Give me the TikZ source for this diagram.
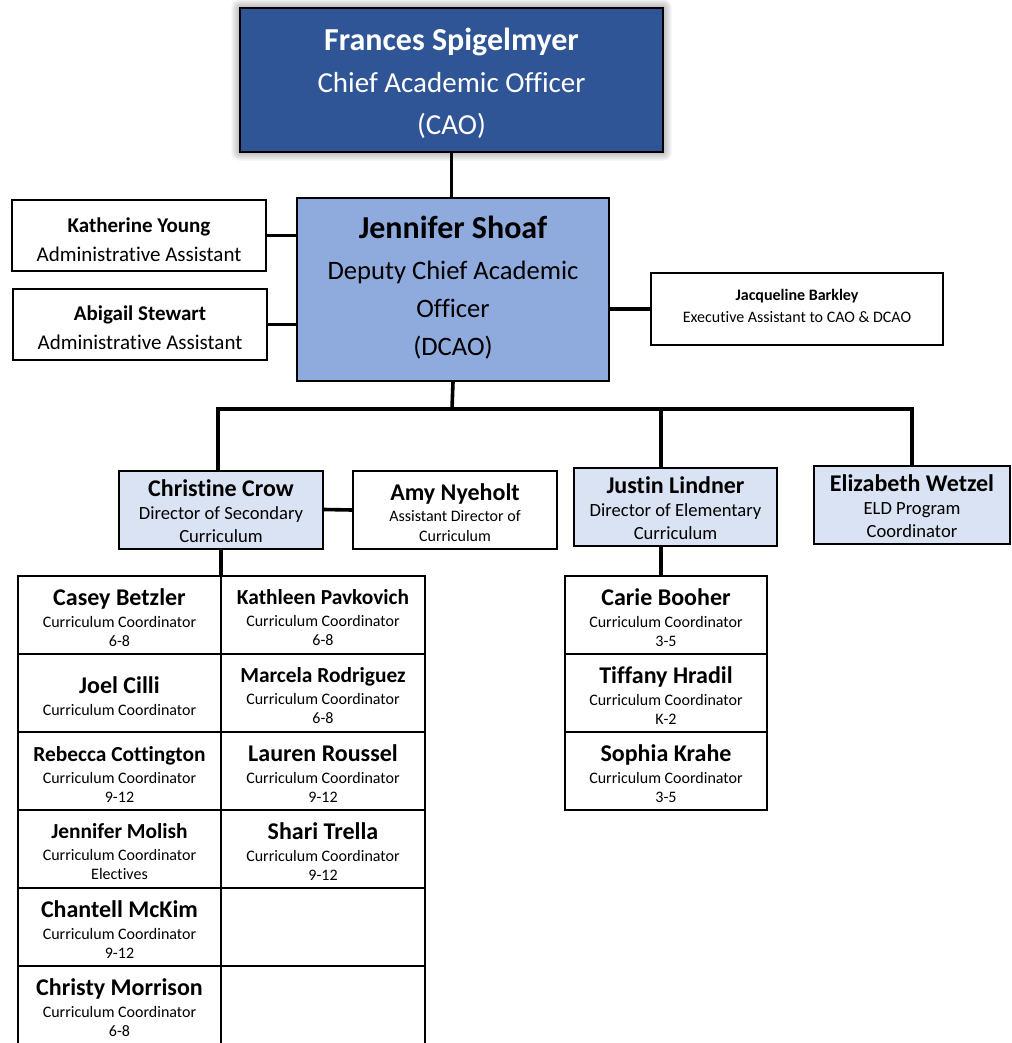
\documentclass[tikz,border=0pt]{standalone}
\usepackage{fontspec}
\setmainfont{Carlito}[Ligatures={NoCommon}]
\definecolor{caoblue}{HTML}{2F5597}
\definecolor{dcaoblue}{HTML}{8FAADC}
\definecolor{dirblue}{HTML}{DAE3F3}
% bold name line at a given size
\newcommand\pname[2]{{\fontsize{#1}{#1}\selectfont\bfseries #2}}

\begin{document}
\begin{tikzpicture}[x=1pt,y=-1pt,
  box/.style={draw=black, line width=1.5pt, inner sep=0pt},
  tx/.style={align=center, inner sep=0pt, text=black},
  link/.style={line width=3.6pt},
  cell/.style={box, line width=2pt, minimum height=78pt},
  ctx/.style={tx, font=\fontsize{16}{19}\selectfont},
  lcell/.style={cell, minimum width=203pt},
  rcell/.style={cell, minimum width=204pt},
  ecell/.style={cell, minimum width=202pt},
  dirbox/.style={box, line width=2pt, fill=dirblue, minimum height=78pt},
]
\useasboundingbox (0,0) rectangle (1011,1043);

% soft glow behind the CAO box
\foreach \i in {1,...,9}
  \fill[black, opacity=0.03, rounded corners=\i pt] (240-\i,8-\i) rectangle (663+\i,152+\i);

% ---- boxes ----
\node[box, fill=caoblue, minimum width=423pt, minimum height=144pt] (cao) at (451.5,80) {};
\node[box, fill=dcaoblue, minimum width=312pt, minimum height=183pt] (dcao) at (453,289.5) {};
\node[box, minimum width=254pt, minimum height=71pt] (ky) at (139,235.5) {};
\node[box, minimum width=254pt, minimum height=71pt] (as) at (140,324.5) {};
\node[box, minimum width=292pt, minimum height=72pt] (jb) at (797,309) {};
\node[dirbox, minimum width=204pt] (cc) at (221,509.5) {};
\node[box, line width=2pt, minimum width=204pt, minimum height=78pt] (an) at (455,510) {};
\node[dirbox, minimum width=203pt] (jl) at (675.5,507) {};
\node[dirbox, minimum width=196pt] (ew) at (912,504.5) {};

\foreach \r/\y in {1/615,2/693,3/771,4/849,5/927,6/1005} {
  \node[lcell] (s\r) at (119.5,\y) {};
  \node[rcell] (t\r) at (323,\y) {};
}
\foreach \r/\y in {1/615,2/693,3/771}
  \node[ecell] (e\r) at (666,\y) {};

% ---- texts ----
\node[tx, text=white, font=\fontsize{29}{42}\selectfont] (cao-t) at ([yshift=-3.5pt]cao.center)
  {\pname{32}{Frances Spigelmyer}\\Chief Academic Officer\\(CAO)};
\node[tx, font=\fontsize{26.6}{38}\selectfont] (dcao-t) at ([yshift=1.5pt]dcao.center)
  {\pname{32}{Jennifer Shoaf}\\[3pt]Deputy Chief Academic\\Officer\\(DCAO)};
\node[tx, font=\fontsize{21}{29}\selectfont] (ky-t) at ([yshift=-4pt]ky.center)
  {\pname{21}{Katherine Young}\\Administrative Assistant};
\node[tx, font=\fontsize{21}{29}\selectfont] (as-t) at ([yshift=-3.5pt]as.center)
  {\pname{21}{Abigail Stewart}\\Administrative Assistant};
\node[tx, font=\fontsize{16}{22}\selectfont] (jb-t) at ([yshift=3pt]jb.center)
  {\pname{16}{Jacqueline Barkley}\\Executive Assistant to CAO \& DCAO};
\node[tx, font=\fontsize{18.6}{23}\selectfont] (cc-t) at ([yshift=-1.5pt]cc.center)
  {\pname{24}{Christine Crow}\\Director of Secondary\\Curriculum};
\node[tx, font=\fontsize{16}{20}\selectfont] (an-t) at ([yshift=-3pt]an.center)
  {\pname{24}{Amy Nyeholt}\\[1pt]Assistant Director of\\Curriculum};
\node[tx, font=\fontsize{18.6}{23}\selectfont] (jl-t) at ([yshift=-1.5pt]jl.center)
  {\pname{24}{Justin Lindner}\\Director of Elementary\\Curriculum};
\node[tx, font=\fontsize{18.6}{23}\selectfont] (ew-t) at ([yshift=-1.5pt]ew.center)
  {\pname{24}{Elizabeth Wetzel}\\ELD Program\\Coordinator};

\node[ctx] (s1-t) at ([yshift=-3pt]s1.center) {\pname{24}{Casey Betzler}\\[3pt]Curriculum Coordinator\\6-8};
\node[ctx] (s2-t) at ([yshift=-3pt]s2.center) {\pname{24}{Joel Cilli}\\[3pt]Curriculum Coordinator};
\node[ctx] (s3-t) at ([yshift=-3pt]s3.center) {\pname{21.4}{Rebecca Cottington}\\[3pt]Curriculum Coordinator\\9-12};
\node[ctx] (s4-t) at ([yshift=-3pt]s4.center) {\pname{21.4}{Jennifer Molish}\\[3pt]Curriculum Coordinator\\Electives};
\node[ctx] (s5-t) at ([yshift=-3pt]s5.center) {\pname{24}{Chantell McKim}\\[3pt]Curriculum Coordinator\\9-12};
\node[ctx] (s6-t) at ([yshift=-3pt]s6.center) {\pname{24}{Christy Morrison}\\[3pt]Curriculum Coordinator\\6-8};
\node[ctx] (t1-t) at ([yshift=-3pt]t1.center) {\pname{21.4}{Kathleen Pavkovich}\\[3pt]Curriculum Coordinator\\6-8};
\node[ctx] (t2-t) at ([yshift=-3pt]t2.center) {\pname{21.4}{Marcela Rodriguez}\\[3pt]Curriculum Coordinator\\6-8};
\node[ctx] (t3-t) at ([yshift=-3pt]t3.center) {\pname{24}{Lauren Roussel}\\[3pt]Curriculum Coordinator\\9-12};
\node[ctx] (t4-t) at ([yshift=-3pt]t4.center) {\pname{24}{Shari Trella}\\[3pt]Curriculum Coordinator\\9-12};
\node[ctx] (e1-t) at ([yshift=-3pt]e1.center) {\pname{24}{Carie Booher}\\[3pt]Curriculum Coordinator\\3-5};
\node[ctx] (e2-t) at ([yshift=-3pt]e2.center) {\pname{24}{Tiffany Hradil}\\[3pt]Curriculum Coordinator\\K-2};
\node[ctx] (e3-t) at ([yshift=-3pt]e3.center) {\pname{24}{Sophia Krahe}\\[3pt]Curriculum Coordinator\\3-5};

% ---- connectors ----
\coordinate (bus) at (452,409);
\coordinate (bl) at (218,409);
\coordinate (jx) at (661,409);
\draw[link] (cao.south) -- (cao.south |- dcao.north);
\draw[link] (ky.east) -- (ky.east -| dcao.west);
\draw[link] (as.east) -- (as.east -| dcao.west);
\draw[link] (jb.west -| dcao.east) -- (jb.west);
\draw[link] (dcao.south) -- (bus);
\draw[link] (bl |- cc.north) -- (bl) -- (bus -| ew.north) -- (ew.north);
\draw[link] (jx) -- (jx |- jl.north);
\draw[link] (cc.east) -- (an.west);
\draw[link] (cc.south) -- (cc.south |- s1.north);
\draw[link] (jx |- jl.south) -- (jx |- e1.north);
\end{tikzpicture}
\end{document}
